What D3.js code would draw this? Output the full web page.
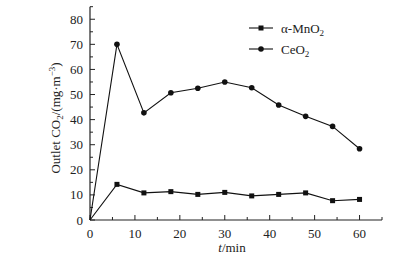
<!DOCTYPE html>
<html><head><meta charset="utf-8">
<script src="https://cdn.jsdelivr.net/npm/d3@7"></script>
<style>body{margin:0;background:#fff}svg{display:block}text{font-family:"Liberation Serif","Times New Roman",serif;fill:#222}</style>
</head><body>
<script>
const times = [0, 6, 12, 18, 24, 30, 36, 42, 48, 54, 60];
const mno2 = [0, 14.2, 10.8, 11.3, 10.2, 11.0, 9.6, 10.2, 10.8, 7.7, 8.2];
const ceo2 = [0, 70, 42.7, 50.7, 52.5, 55, 52.7, 45.8, 41.3, 37.3, 28.4];
const xTicks = [0, 10, 20, 30, 40, 50, 60];
const yTicks = [0, 10, 20, 30, 40, 50, 60, 70, 80];

const W = 406, H = 264;
const svg = d3.select("body").append("svg").attr("width", W).attr("height", H);
const x = d3.scaleLinear().domain([0, 65]).range([90, 382]);
const y = d3.scaleLinear().domain([0, 85]).range([220, 6.7]);

const g = svg.append("g");
g.append("line").attr("x1", x(0)).attr("x2", x(65)).attr("y1", y(0)).attr("y2", y(0)).attr("stroke", "#222").attr("stroke-width", 1.2);
g.append("line").attr("x1", x(0)).attr("x2", x(0)).attr("y1", y(0)).attr("y2", y(85)).attr("stroke", "#222").attr("stroke-width", 1.2);
d3.range(0, 66, 5).forEach(v => {
  const len = v % 10 === 0 ? 5 : 3;
  g.append("line").attr("x1", x(v)).attr("x2", x(v)).attr("y1", y(0)).attr("y2", y(0) - len).attr("stroke", "#222");
});
d3.range(0, 86, 5).forEach(v => {
  const len = v % 10 === 0 ? 5 : 3;
  g.append("line").attr("x1", x(0)).attr("x2", x(0) + len).attr("y1", y(v)).attr("y2", y(v)).attr("stroke", "#222");
});
xTicks.forEach(v => g.append("text").attr("x", x(v)).attr("y", y(0) + 18).attr("text-anchor", "middle").attr("font-size", 13).text(v));
yTicks.forEach(v => g.append("text").attr("x", x(0) - 7).attr("y", y(v) + 4.5).attr("text-anchor", "end").attr("font-size", 13).text(v));

const xl = g.append("text").attr("x", 232).attr("y", 252).attr("text-anchor", "middle").attr("font-size", 13);
xl.append("tspan").attr("font-style", "italic").text("t");
xl.append("tspan").text("/min");
const yl = g.append("text").attr("transform", "translate(60,118) rotate(-90)").attr("text-anchor", "middle").attr("font-size", 13);
yl.append("tspan").text("Outlet CO");
yl.append("tspan").attr("font-size", 9).attr("dy", 3).text("2");
yl.append("tspan").attr("dy", -3).text("/(mg·m");
yl.append("tspan").attr("font-size", 9).attr("dy", -5).text("−3");
yl.append("tspan").attr("dy", 5).text(")");

const line = d3.line().x((d, i) => x(times[i])).y(d => y(d));
[[mno2, "square"], [ceo2, "circle"]].forEach(([vals, shape]) => {
  g.append("path").datum(vals).attr("d", line).attr("fill", "none").attr("stroke", "#111").attr("stroke-width", 1.1);
  vals.forEach((v, i) => {
    if (i === 0) return;
    if (shape === "square") g.append("rect").attr("x", x(times[i]) - 2.5).attr("y", y(v) - 2.5).attr("width", 5).attr("height", 5).attr("fill", "#111");
    else g.append("circle").attr("cx", x(times[i])).attr("cy", y(v)).attr("r", 2.8).attr("fill", "#111");
  });
});

const leg = [["α-MnO", "square", 28], ["CeO", "circle", 49]];
leg.forEach(([lab, shape, ly]) => {
  g.append("line").attr("x1", 249).attr("x2", 273).attr("y1", ly).attr("y2", ly).attr("stroke", "#111").attr("stroke-width", 1.1);
  if (shape === "square") g.append("rect").attr("x", 261 - 2.5).attr("y", ly - 2.5).attr("width", 5).attr("height", 5).attr("fill", "#111");
  else g.append("circle").attr("cx", 261).attr("cy", ly).attr("r", 2.8).attr("fill", "#111");
  const t = g.append("text").attr("x", 281).attr("y", ly + 4.5).attr("font-size", 13);
  t.append("tspan").text(lab);
  t.append("tspan").attr("font-size", 9).attr("dy", 3).text("2");
});
</script>
</body></html>
